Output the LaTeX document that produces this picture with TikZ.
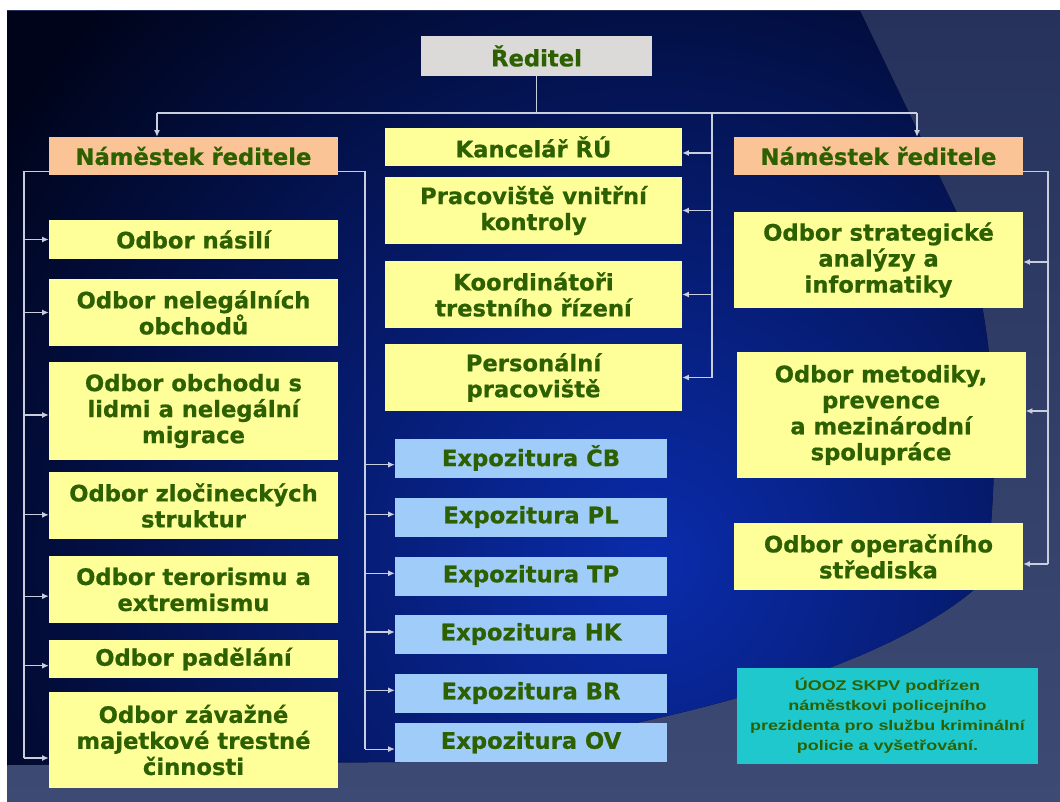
\documentclass[tikz,border=0pt]{standalone}
\usepackage{fontspec}
\setmainfont{DejaVu Sans}
\newfontfamily\unitfont[FakeBold=0.7]{DejaVu Sans}
\newfontfamily\notefont[FakeStretch=1.28]{Liberation Sans}
\usetikzlibrary{arrows.meta}

\definecolor{txtgreen}{RGB}{45,96,0}
\definecolor{boxyellow}{RGB}{255,255,153}
\definecolor{boxorange}{RGB}{250,196,150}
\definecolor{boxblue}{RGB}{160,204,250}
\definecolor{boxgray}{RGB}{220,218,216}
\definecolor{boxcyan}{RGB}{30,200,205}
\definecolor{wirecol}{RGB}{200,206,222}
\definecolor{slatetop}{RGB}{38,50,92}
\definecolor{slatebot}{RGB}{60,74,116}
\definecolor{bgblue}{RGB}{10,44,172}
\definecolor{bgdark}{RGB}{0,4,26}

\tikzset{
  unit/.style={rectangle, fill=boxyellow, text=txtgreen, align=center, inner sep=0pt,
    font=\unitfont\bfseries\fontsize{17}{19.5}\selectfont, minimum width=216.75pt},
  deputy/.style={unit, fill=boxorange, minimum height=28.5pt},
  branch/.style={unit, fill=boxblue, minimum width=204pt, minimum height=29.25pt},
  note/.style={rectangle, fill=boxcyan, text=txtgreen, align=center, inner sep=0pt,
    font=\notefont\bfseries\fontsize{10.5}{15}\selectfont,
    minimum width=225.75pt, minimum height=72pt},
  wire/.style={draw=wirecol, line width=0.8pt},
  arr/.style={wire, -{Latex[length=5pt,width=4.5pt]}},
}

\begin{document}
\begin{tikzpicture}[x=0.75pt, y=-0.75pt]
  \useasboundingbox (0,0) rectangle (1060,802);
  % background
  \shade[top color=slatetop, bottom color=slatebot] (7,11) rectangle (1060,802);
  \begin{scope}
    \clip (7,11) -- (860,11) -- (957,213) .. controls (990,300) and (1005,430) .. (985,580)
      .. controls (900,660) and (700,725) .. (400,762) -- (7,765) -- cycle;
    \fill[bgdark] (7,11) rectangle (1060,802);
    \shade[inner color=bgblue, outer color=bgdark] (650,560) circle (780);
  \end{scope}

  \node[unit, fill=boxgray, minimum width=173.25pt, minimum height=30pt] (reditel) at (536.5,56) {Ředitel};
  \node[deputy] (nam1) at (193.5,156) {Náměstek ředitele};
  \node[deputy] (nam2) at (878.5,156) {Náměstek ředitele};

  % left column
  \node[unit, minimum height=29.25pt] (nasili) at (193.5,239.5) {Odbor násilí};
  \node[unit, minimum height=50.25pt] (obchody) at (193.5,312.5) {Odbor nelegálních\\obchodů};
  \node[unit, minimum height=73.5pt] (migrace) at (193.5,411) {Odbor obchodu s\\lidmi a nelegální\\migrace};
  \node[unit, minimum height=50.25pt] (struktury) at (193.5,505.5) {Odbor zločineckých\\struktur};
  \node[unit, minimum height=50.25pt] (terorismus) at (193.5,589.5) {Odbor terorismu a\\extremismu};
  \node[unit, minimum height=28.5pt] (padelani) at (193.5,659) {Odbor padělání};
  \node[unit, minimum height=72pt] (majetek) at (193.5,740) {Odbor závažné\\majetkové trestné\\činnosti};

  % middle column
  \node[unit, minimum width=222.75pt, minimum height=28.5pt] (kancelar) at (533.5,147) {Kancelář ŘÚ};
  \node[unit, minimum width=222.75pt, minimum height=50.25pt] (vnitrni) at (533.5,210.5) {Pracoviště vnitřní\\kontroly};
  \node[unit, minimum width=222.75pt, minimum height=50.25pt] (koordinatori) at (533.5,294.5) {Koordinátoři\\trestního řízení};
  \node[unit, minimum width=222.75pt, minimum height=50.25pt] (personal) at (533.5,377.5) {Personální\\pracoviště};
  \foreach \k/\t/\y in {cb/ČB/458, pl/PL/517, tp/TP/576, hk/HK/634, br/BR/693, ov/OV/742.5}
    \node[branch] (exp\k) at (531,\y) {Expozitura \t};

  % right column
  \node[unit, minimum height=72pt] (analyzy) at (878.5,260) {Odbor strategické\\analýzy a\\informatiky};
  \node[unit, minimum height=94.5pt] (metodika) at (881,415) {Odbor metodiky,\\prevence\\a mezinárodní\\spolupráce};
  \node[unit, minimum height=50.25pt] (operacni) at (878.5,556.5) {Odbor operačního\\střediska};
  \node[note] (pozn) at (887.5,716) {ÚOOZ SKPV podřízen\\náměstkovi policejního\\prezidenta pro službu kriminální\\policie a vyšetřování.};

  \coordinate (tl) at (157,113);
  \coordinate (tr) at (917,113);
  \coordinate (mbus) at (712,377.5);
  \coordinate (lbus) at (24,758);
  \coordinate (ebus) at (365,749);
  \coordinate (rbus) at (1048,564);

  \draw[wire] (reditel) -- (reditel |- tl);
  \draw[wire] (tl) -- (tr);
  \draw[arr] (tl) -- (tl |- nam1.north);
  \draw[arr] (tr) -- (tr |- nam2.north);
  \draw[wire] (mbus |- tl) -- (mbus);
  \foreach \n/\d in {kancelar/-4.5pt, vnitrni/0pt, koordinatori/0pt, personal/0pt}
    \draw[arr] ([yshift=\d]\n.east -| mbus) -- ([yshift=\d]\n.east);

  \draw[wire] ([yshift=3pt]nam1.south west) -| (lbus);
  \foreach \n/\d in {nasili/0pt, obchody/0pt, migrace/-3pt, struktury/-7pt, terorismus/-5pt, padelani/-5pt, majetek/-13.5pt}
    \draw[arr] ([yshift=\d]\n.west -| lbus) -- ([yshift=\d]\n.west);

  \draw[wire] ([yshift=3pt]nam1.south east) -| (ebus);
  \foreach \n/\d in {expcb/-5pt, exppl/2pt, exptp/2pt, exphk/1.5pt, expbr/2pt, expov/-4.9pt}
    \draw[arr] ([yshift=\d]\n.west -| ebus) -- ([yshift=\d]\n.west);

  \draw[wire] ([yshift=3pt]nam2.south east) -| (rbus);
  \foreach \n/\d in {analyzy/-1.5pt, metodika/3pt, operacni/-5.6pt}
    \draw[arr] ([yshift=\d]\n.east -| rbus) -- ([yshift=\d]\n.east);
\end{tikzpicture}
\end{document}
